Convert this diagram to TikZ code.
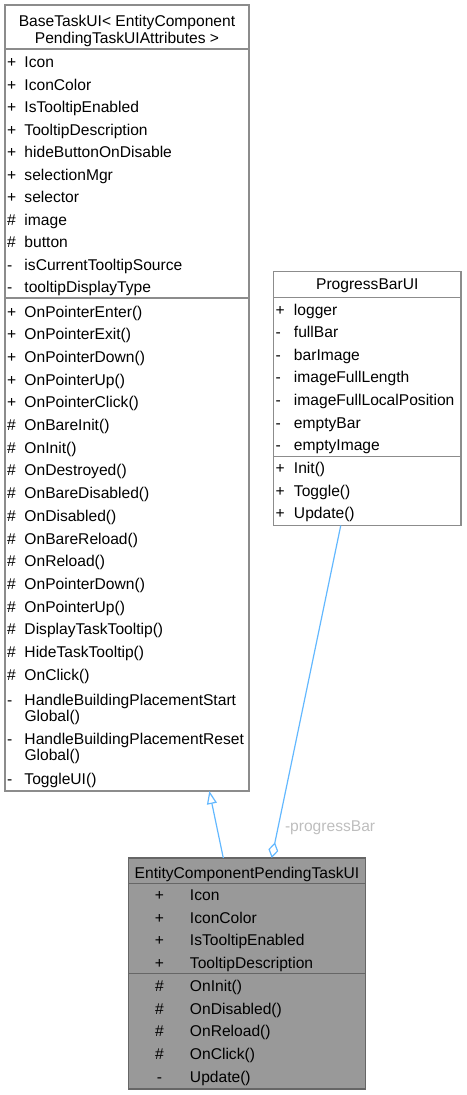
\documentclass[tikz,border=0pt]{standalone}
\usepackage{fontspec}
\setmainfont{Liberation Sans}
\usetikzlibrary{arrows.meta}
\definecolor{edgeblue}{HTML}{63B8FF}
\definecolor{boxborder}{HTML}{8C8C8C}
\definecolor{mainfill}{HTML}{999999}
\definecolor{mainborder}{HTML}{666666}
\definecolor{lblgray}{HTML}{BEBEBE}
\newcommand{\vis}[1]{\makebox[17.5pt][l]{#1}}
\newcommand{\cvis}[1]{\makebox[61pt][c]{#1}}
\begin{document}
\begin{tikzpicture}[x=1pt,y=-1pt,
  every node/.style={font=\fontsize{15.6}{17}\selectfont, inner sep=0pt, outer sep=0pt},
  classbox/.style={draw=boxborder, fill=white, line width=1.3pt},
  mainbox/.style={draw=mainborder, fill=mainfill, line width=1.3pt},
  divider/.style={draw=boxborder, line width=1.3pt},
  maindivider/.style={draw=mainborder, line width=1.3pt},
  row/.style={anchor=base west},
  ttl/.style={anchor=base},
  lbl/.style={anchor=base west, text=lblgray},
  inherit/.style={draw=edgeblue, line width=1.2pt, -{Triangle[open, length=13pt, width=10pt, line width=1.2pt]}},
  aggreg/.style={draw=edgeblue, line width=1.2pt, -{Diamond[open, length=16pt, width=10pt, line width=1.2pt]}}]
\useasboundingbox (0,0) rectangle (466,1095);

% ---- BaseTaskUI ----
\node[classbox, minimum width=244pt, minimum height=786pt] (base) at (127,398) {};
\draw[divider] (5,49) -- (249,49);
\draw[divider] (5,298) -- (249,298);
\node[ttl] (baset1) at (127,26) {BaseTaskUI< EntityComponent};
\node[ttl] (baset2) at (127,43) {PendingTaskUIAttributes >};
\foreach \s/\t [count=\i from 0] in {+/Icon, +/IconColor, +/IsTooltipEnabled, +/TooltipDescription, +/hideButtonOnDisable, +/selectionMgr, +/selector, \#/image, \#/button, -/isCurrentTooltipSource, -/tooltipDisplayType}
  \node[row] (ba\i) at (7, 67.5+22.5*\i) {\vis{\s}\t};
\foreach \s/\t [count=\i from 0] in {+/OnPointerEnter(), +/OnPointerExit(), +/OnPointerDown(), +/OnPointerUp(), +/OnPointerClick(), \#/OnBareInit(), \#/OnInit(), \#/OnDestroyed(), \#/OnBareDisabled(), \#/OnDisabled(), \#/OnBareReload(), \#/OnReload(), \#/OnPointerDown(), \#/OnPointerUp(), \#/DisplayTaskTooltip(), \#/HideTaskTooltip(), \#/OnClick()}
  \node[row] (bm\i) at (7, 317+22.7*\i) {\vis{\s}\t};
\node[row] (bm17) at (7,705) {\vis{-}HandleBuildingPlacementStart};
\node[row] (bm17b) at (7,721.5) {\vis{}Global()};
\node[row] (bm18) at (7,744) {\vis{-}HandleBuildingPlacementReset};
\node[row] (bm18b) at (7,760.5) {\vis{}Global()};
\node[row] (bm19) at (7,784) {\vis{-}ToggleUI()};

% ---- ProgressBarUI ----
\node[classbox, minimum width=187.5pt, minimum height=254pt] (prog) at (367.25,398.5) {};
\draw[divider] (273.5,297.5) -- (461,297.5);
\draw[divider] (273.5,456.5) -- (461,456.5);
\node[ttl] (progt) at (367.25,289.5) {ProgressBarUI};
\foreach \s/\t [count=\i from 0] in {+/logger, -/fullBar, -/barImage, -/imageFullLength, -/imageFullLocalPosition, -/emptyBar, -/emptyImage}
  \node[row] (pa\i) at (275.5, 315+22.6*\i) {\makebox[18.5pt][l]{\s}\t};
\foreach \s/\t [count=\i from 0] in {+/Init(), +/Toggle(), +/Update()}
  \node[row] (pm\i) at (275.5, 473.5+22.6*\i) {\makebox[18.5pt][l]{\s}\t};

% ---- EntityComponentPendingTaskUI ----
\node[mainbox, minimum width=237.4pt, minimum height=231pt] (ent) at (247,973.5) {};
\draw[maindivider] (128.3,883.5) -- (365.7,883.5);
\draw[maindivider] (128.3,973.5) -- (365.7,973.5);
\node[ttl] (entt) at (247,878) {EntityComponentPendingTaskUI};
\foreach \s/\t [count=\i from 0] in {+/Icon, +/IconColor, +/IsTooltipEnabled, +/TooltipDescription}
  \node[row] (ea\i) at (129, 900.5+22.7*\i) {\cvis{\s}\t};
\foreach \s/\t [count=\i from 0] in {\#/OnInit(), \#/OnDisabled(), \#/OnReload(), \#/OnClick(), -/Update()}
  \node[row] (em\i) at (129, 991.5+22.7*\i) {\cvis{\s}\t};

% ---- connectors ----
\draw[inherit] ([xshift=-23.7pt]ent.north) -- ([xshift=82.3pt]base.south);
\draw[aggreg] ([xshift=-26.5pt]prog.south) -- ([xshift=24.7pt]ent.north);
\node[lbl] (pblabel) at (285,831.5) {-progressBar};
\end{tikzpicture}
\end{document}
